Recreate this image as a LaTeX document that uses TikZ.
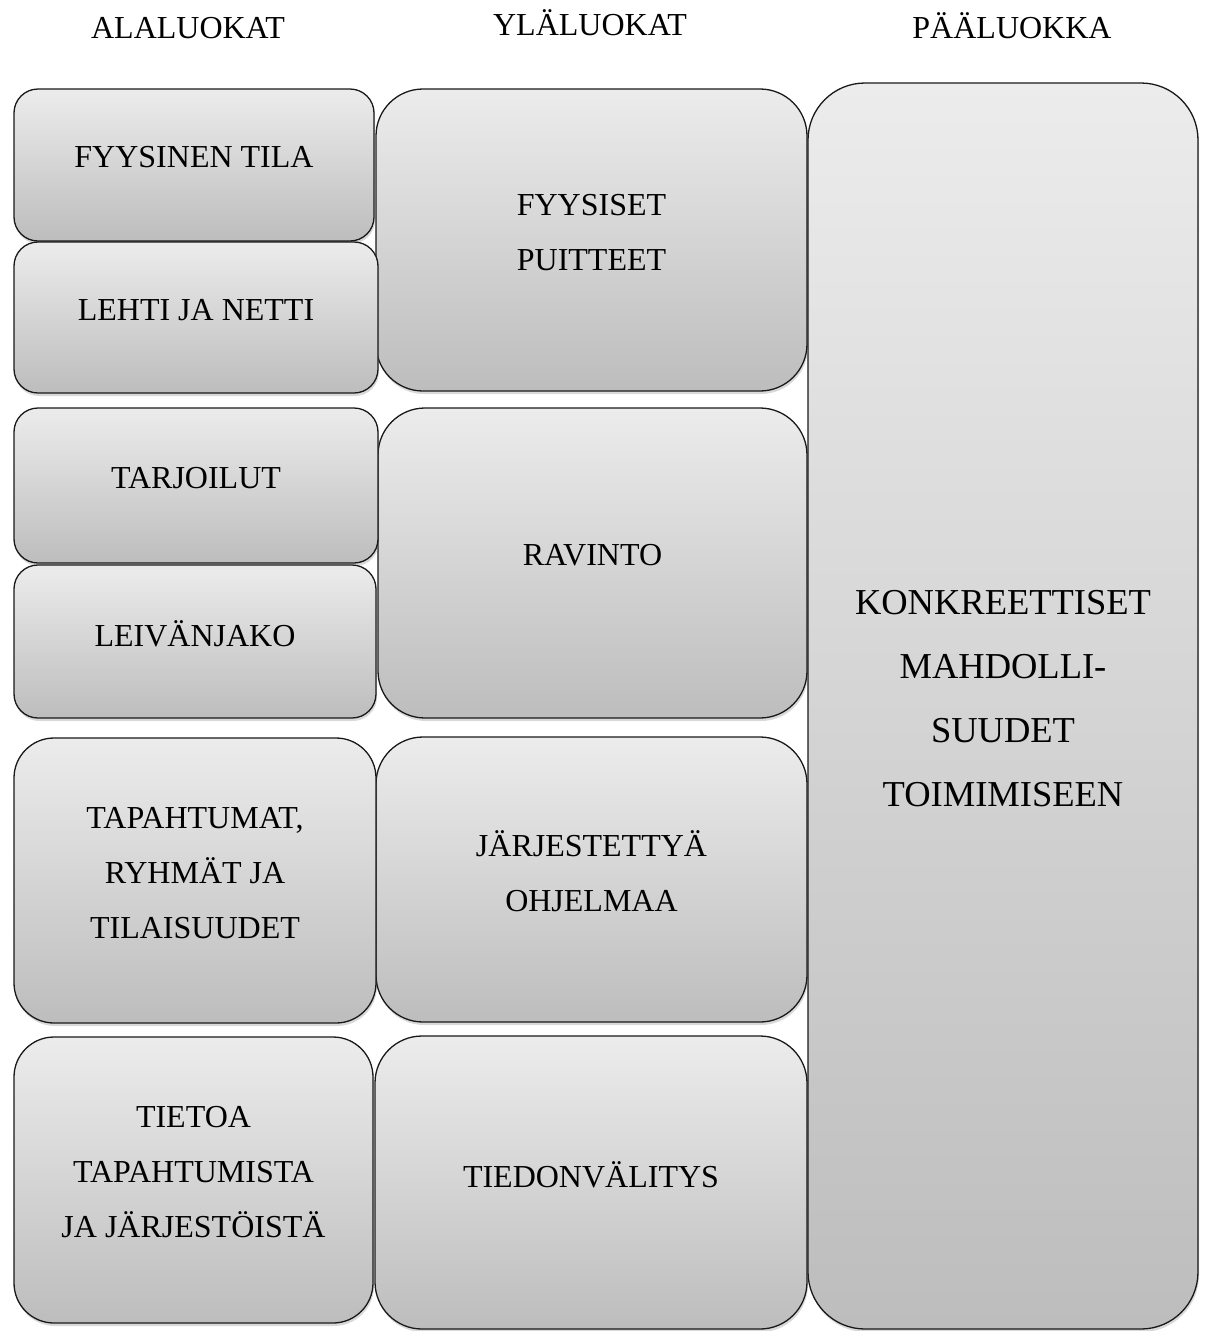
\documentclass[tikz,border=0pt]{standalone}
\usepackage{fontspec}
\setmainfont{Liberation Serif}
\usetikzlibrary{shadows}
\definecolor{boxtop}{RGB}{236,236,236}
\definecolor{boxbottom}{RGB}{189,189,189}

\begin{document}
\begin{tikzpicture}[x=1pt,y=-1pt,
		box/.style={draw=black!90, line width=1.3pt, top color=boxtop, bottom color=boxbottom,
			drop shadow={shadow xshift=1pt, shadow yshift=-3pt, opacity=.3},
			align=center, inner sep=0pt, text depth=16pt, font=\fontsize{32}{55}\selectfont},
		head/.style={anchor=base, font=\fontsize{32}{38}\selectfont}]
		\useasboundingbox (0,0) rectangle (1205,1331);
		% otsikot
		\node[head] (alaluokat) at (188,38) {ALALUOKAT};
		\node[head] (ylaluokat) at (590,35) {YLÄLUOKAT};
		\node[head] (paaluokka) at (1012,38) {PÄÄLUOKKA};
		% pääluokka
		\node[box, rounded corners=57pt, minimum width=390pt, minimum height=1246pt, font=\fontsize{36.5}{64}\selectfont]
			(konkreettiset) at (1003,706) {KONKREETTISET\\MAHDOLLI-\\SUUDET\\TOIMIMISEEN};
		% yläluokat
		\node[box, rounded corners=47pt, minimum width=431pt, minimum height=302pt] (puitteet) at (591.5,240) {FYYSISET\\PUITTEET};
		\node[box, rounded corners=47pt, minimum width=429pt, minimum height=310pt] (ravinto) at (592.5,563) {RAVINTO};
		\node[box, rounded corners=47pt, minimum width=431pt, minimum height=285pt] (ohjelmaa) at (591.5,879.5) {JÄRJESTETTYÄ\\OHJELMAA};
		\node[box, rounded corners=47pt, minimum width=432pt, minimum height=293pt] (tiedonvalitys) at (591,1182.5) {TIEDONVÄLITYS};
		% alaluokat
		\node[box, rounded corners=24pt, minimum width=360pt, minimum height=152pt] (tila) at (194,165) {FYYSINEN TILA};
		\node[box, rounded corners=24pt, minimum width=364pt, minimum height=151pt] (lehti) at (196,317.5) {LEHTI JA NETTI};
		\node[box, rounded corners=24pt, minimum width=364pt, minimum height=155pt] (tarjoilut) at (196,485.5) {TARJOILUT};
		\node[box, rounded corners=24pt, minimum width=362pt, minimum height=153pt] (leivanjako) at (195,641.5) {LEIVÄNJAKO};
		\node[box, rounded corners=40pt, minimum width=362pt, minimum height=285pt] (tapahtumat) at (195,880.5) {TAPAHTUMAT,\\RYHMÄT JA\\TILAISUUDET};
		\node[box, rounded corners=40pt, minimum width=359pt, minimum height=286pt] (tietoa) at (193.5,1180) {TIETOA\\TAPAHTUMISTA\\JA JÄRJESTÖISTÄ};
	\end{tikzpicture}
\end{document}
